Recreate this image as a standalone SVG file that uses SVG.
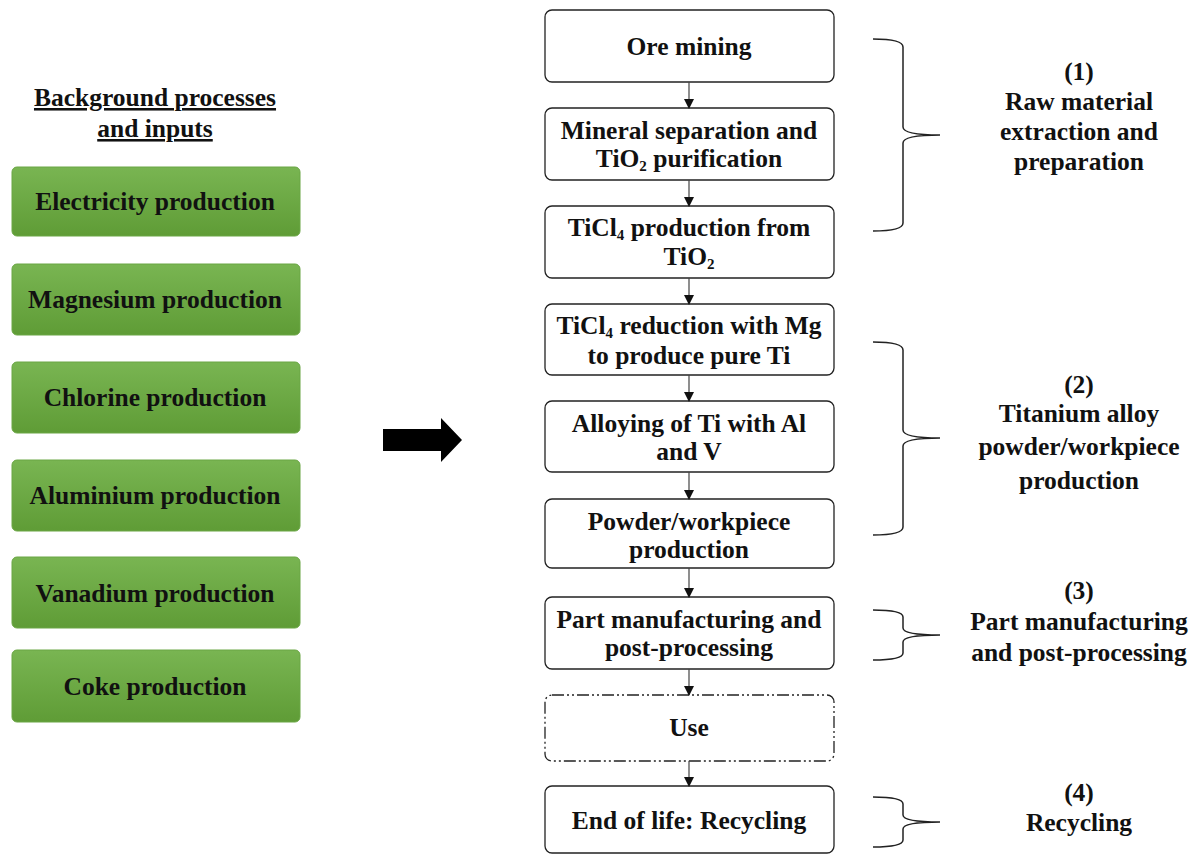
<svg xmlns="http://www.w3.org/2000/svg" width="1197" height="855" viewBox="0 0 1197 855">
  <style>
    text { font-family: "Liberation Serif", "Times New Roman", serif; font-weight: bold; fill: #111; text-anchor: middle; font-size: 25.5px; }
    .sub { font-size: 15px; }
    .green { fill: url(#gg); stroke: #6aa644; stroke-width: 1; }
    .step { fill: #fff; stroke: #222; stroke-width: 1.3; }
    .use { fill: #fff; stroke: #222; stroke-width: 1.3; stroke-dasharray: 12 3 2 3 2 3; }
    .flow { stroke: #444; stroke-width: 1.2; fill: none; marker-end: url(#ah); }
    .brace { stroke: #222; stroke-width: 1.5; fill: none; }
  </style>
  <defs>
    <linearGradient id="gg" x1="0" y1="0" x2="0" y2="1">
      <stop offset="0" stop-color="#79b552"/>
      <stop offset="1" stop-color="#5f9c36"/>
    </linearGradient>
    <marker id="ah" markerWidth="10" markerHeight="10" refX="9" refY="5" orient="auto" markerUnits="userSpaceOnUse">
      <path d="M0,0 L10,5 L0,10 Z" fill="#111"/>
    </marker>
  </defs>

  <rect width="1197" height="855" fill="#fff"/>

  <!-- Background inputs -->
  <g id="inputs-title">
    <text x="155" y="106" text-decoration="underline">Background processes</text>
    <text x="155" y="137" text-decoration="underline">and inputs</text>
  </g>
  <g id="in-electricity"><rect class="green" x="12" y="167" width="288" height="69" rx="5"/><text x="155" y="210">Electricity production</text></g>
  <g id="in-magnesium"><rect class="green" x="12" y="264" width="288" height="71" rx="5"/><text x="155" y="308">Magnesium production</text></g>
  <g id="in-chlorine"><rect class="green" x="12" y="362" width="288" height="71" rx="5"/><text x="155" y="406">Chlorine production</text></g>
  <g id="in-aluminium"><rect class="green" x="12" y="460" width="288" height="71" rx="5"/><text x="155" y="504">Aluminium production</text></g>
  <g id="in-vanadium"><rect class="green" x="12" y="557" width="288" height="71" rx="5"/><text x="155" y="602">Vanadium production</text></g>
  <g id="in-coke"><rect class="green" x="12" y="650" width="288" height="72" rx="5"/><text x="155" y="695">Coke production</text></g>

  <!-- Big arrow -->
  <g id="big-arrow">
    <path d="M383,429 H441 V418 L462,440 L441,462 V451 H383 Z" fill="#000"/>
  </g>

  <!-- Process chain -->
  <g id="s-ore"><rect class="step" x="545" y="10" width="289" height="72" rx="7"/><text x="689" y="55">Ore mining</text></g>
  <g id="s-mineral"><rect class="step" x="545" y="108" width="289" height="72" rx="7"/>
    <text x="689" y="139">Mineral separation and</text>
    <text x="689" y="167">TiO<tspan class="sub" dy="4">2</tspan><tspan dy="-4"> purification</tspan></text></g>
  <g id="s-ticl4"><rect class="step" x="545" y="206" width="289" height="72" rx="7"/>
    <text x="689" y="236">TiCl<tspan class="sub" dy="4">4</tspan><tspan dy="-4"> production from</tspan></text>
    <text x="689" y="265">TiO<tspan class="sub" dy="4">2</tspan></text></g>
  <g id="s-reduction"><rect class="step" x="545" y="304" width="289" height="71" rx="7"/>
    <text x="689" y="334">TiCl<tspan class="sub" dy="4">4</tspan><tspan dy="-4"> reduction with Mg</tspan></text>
    <text x="689" y="364">to produce pure Ti</text></g>
  <g id="s-alloying"><rect class="step" x="545" y="401" width="289" height="71" rx="7"/>
    <text x="689" y="432">Alloying of Ti with Al</text>
    <text x="689" y="460">and V</text></g>
  <g id="s-powder"><rect class="step" x="545" y="499" width="289" height="69" rx="7"/>
    <text x="689" y="530">Powder/workpiece</text>
    <text x="689" y="558">production</text></g>
  <g id="s-part"><rect class="step" x="545" y="597" width="289" height="72" rx="7"/>
    <text x="689" y="628">Part manufacturing and</text>
    <text x="689" y="656">post-processing</text></g>
  <g id="s-use"><rect class="use" x="545" y="695" width="289" height="66" rx="7"/>
    <text x="689" y="736">Use</text></g>
  <g id="s-eol"><rect class="step" x="545" y="786" width="289" height="67" rx="7"/>
    <text x="689" y="829">End of life: Recycling</text></g>

  <!-- Connectors -->
  <g id="connectors">
    <line class="flow" x1="689" y1="82" x2="689" y2="108"/>
    <line class="flow" x1="689" y1="180" x2="689" y2="206"/>
    <line class="flow" x1="689" y1="278" x2="689" y2="304"/>
    <line class="flow" x1="689" y1="375" x2="689" y2="401"/>
    <line class="flow" x1="689" y1="472" x2="689" y2="499"/>
    <line class="flow" x1="689" y1="568" x2="689" y2="597"/>
    <line class="flow" x1="689" y1="669" x2="689" y2="695"/>
    <line class="flow" x1="689" y1="761" x2="689" y2="786"/>
  </g>

  <!-- Stage braces -->
  <g id="brace-1"><path class="brace" d="M873,39 Q903,39 903,47 V127 Q903,135 940,135 Q903,135 903,143 V223 Q903,231 873,231"/></g>
  <g id="brace-2"><path class="brace" d="M873,342 Q903,342 903,350 V430 Q903,438 940,438 Q903,438 903,446 V527 Q903,535 873,535"/></g>
  <g id="brace-3"><path class="brace" d="M873,610 Q903,610 903,617 V628 Q903,635 940,635 Q903,635 903,642 V653 Q903,660 873,660"/></g>
  <g id="brace-4"><path class="brace" d="M873,797 Q903,797 903,804 V815 Q903,822 940,822 Q903,822 903,829 V840 Q903,847 873,847"/></g>

  <!-- Stage labels -->
  <g id="label-1">
    <text x="1079" y="80">(1)</text>
    <text x="1079" y="110">Raw material</text>
    <text x="1079" y="140">extraction and</text>
    <text x="1079" y="170">preparation</text>
  </g>
  <g id="label-2">
    <text x="1079" y="393">(2)</text>
    <text x="1079" y="422">Titanium alloy</text>
    <text x="1079" y="455">powder/workpiece</text>
    <text x="1079" y="489">production</text>
  </g>
  <g id="label-3">
    <text x="1079" y="599">(3)</text>
    <text x="1079" y="630">Part manufacturing</text>
    <text x="1079" y="661">and post-processing</text>
  </g>
  <g id="label-4">
    <text x="1079" y="801">(4)</text>
    <text x="1079" y="831">Recycling</text>
  </g>
</svg>
